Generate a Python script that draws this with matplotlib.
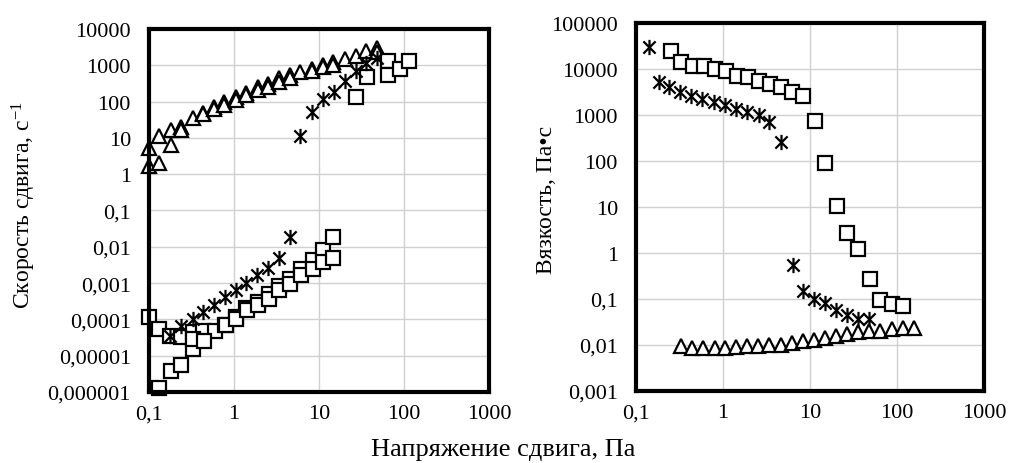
import numpy as np
import matplotlib
matplotlib.use('Agg')
import matplotlib.pyplot as plt
from matplotlib.path import Path
from matplotlib.ticker import FixedLocator, FuncFormatter, NullLocator

# ---- левый график: скорость сдвига ----
tri_a_x = [0.1, 0.132, 0.18, 0.24, 0.33, 0.43, 0.58, 0.76, 1.05, 1.4, 1.9, 2.5, 3.4, 4.5, 6.0, 8.3, 11, 14.8, 20, 27, 36, 48]
tri_a_y = [5.4, 11, 16, 20, 35, 50, 72, 95, 135, 178, 260, 315, 435, 540, 660, 790, 1010, 1200, 1450, 1850, 2400, 3000]
tri_b_x = [0.1, 0.132, 0.18, 0.24, 0.43, 0.58, 0.76, 1.05, 1.4, 1.9, 2.5, 3.4, 4.5, 8.3, 11, 14.8, 48]
tri_b_y = [1.7, 2.0, 6.3, 17, 45, 62, 80, 110, 150, 210, 260, 350, 435, 680, 880, 1050, 2270]

ast_hi_x = [6.0, 8.3, 11, 15, 20, 27, 36, 48]
ast_hi_y = [11.4, 53, 117, 180, 370, 700, 1150, 1600]
sq_hi_x = [27, 36.6, 64, 64, 89, 115]
sq_hi_y = [131, 485, 1340, 540, 790, 1340]

ast_lo_x = [0.176, 0.235, 0.325, 0.43, 0.58, 0.78, 1.05, 1.4, 1.87, 2.5, 3.4, 4.6]
ast_lo_y = [3.5e-5, 6.5e-5, 1.0e-4, 1.6e-4, 2.5e-4, 4.1e-4, 6.3e-4, 1.0e-3, 1.65e-3, 2.6e-3, 5.0e-3, 0.019]

sq1_x = [0.1, 0.13, 0.176, 0.24, 0.33, 0.43, 0.59, 0.78, 1.07, 1.4, 1.9, 2.55, 3.4, 4.6, 6.1, 8.4, 11, 14.7]
sq1_y = [1.15e-4, 5.5e-5, 3.5e-5, 3.2e-5, 4.5e-5, 4.9e-5, 4.9e-5, 7e-5, 1.2e-4, 2.0e-4, 3.0e-4, 5.1e-4, 8.3e-4, 1.3e-3, 2.4e-3, 4.3e-3, 8.1e-3, 0.019]
sq2_x = [0.13, 0.18, 0.24, 0.33, 0.33, 0.44, 0.8, 1.07, 1.42, 1.9, 2.55, 3.4, 4.6, 6.1, 8.4, 11, 14.7]
sq2_y = [1.3e-6, 3.8e-6, 5.5e-6, 1.5e-5, 2.8e-5, 2.6e-5, 7e-5, 1.0e-4, 1.8e-4, 2.5e-4, 3.7e-4, 6.3e-4, 9.7e-4, 1.65e-3, 2.5e-3, 3.9e-3, 5.0e-3]

# ---- правый график: вязкость ----
visc_ast_x = [0.14, 0.185, 0.24, 0.32, 0.43, 0.58, 0.78, 1.05, 1.4, 1.88, 2.6, 3.4, 4.7,
              6.3, 8.4, 11.2, 14.9, 20, 26.6, 36, 48]
visc_ast_y = [30600, 5130, 4000, 3100, 2630, 2230, 1900, 1650, 1350, 1180, 1000, 720, 263,
              0.55, 0.15, 0.1, 0.081, 0.058, 0.044, 0.037, 0.037]
visc_sq_x = [0.255, 0.33, 0.45, 0.61, 0.81, 1.08, 1.44, 1.92, 2.6, 3.5, 4.7, 6.2, 8.4, 11.5, 15,
             20.4, 26.6, 36, 49, 64, 87, 116]
visc_sq_y = [25000, 14000, 11800, 11800, 10000, 9150, 7200, 6600, 5600, 4700, 4000, 3100, 2630, 750, 91,
             10.3, 2.75, 1.2, 0.27, 0.093, 0.079, 0.071]
visc_tri_x = [0.33, 0.44, 0.59, 0.8, 1.06, 1.42, 1.9, 2.55, 3.4, 4.7, 6.2, 8.3, 11.2, 14.9, 20, 26.6, 36, 48, 64, 87, 116, 155]
visc_tri_y = [0.0095, 0.0087, 0.0087, 0.0087, 0.0087, 0.009, 0.0093, 0.0093, 0.0102, 0.0102, 0.0111, 0.012,
              0.0126, 0.014, 0.0158, 0.017, 0.019, 0.0205, 0.0205, 0.0225, 0.024, 0.024]

plt.rcParams['font.family'] = ['Liberation Serif', 'DejaVu Serif']
plt.rcParams['mathtext.fontset'] = 'custom'
plt.rcParams['mathtext.rm'] = 'Liberation Serif'
plt.rcParams['mathtext.it'] = 'Liberation Serif:italic'

# звездочка как в Excel: крест + вертикальная черта
star = Path([(0, -1), (0, 1), (-0.8, -0.8), (0.8, 0.8), (-0.8, 0.8), (0.8, -0.8)],
            [Path.MOVETO, Path.LINETO, Path.MOVETO, Path.LINETO, Path.MOVETO, Path.LINETO])

sq_kw = dict(ls='none', marker='s', ms=9.5, mfc='white', mec='black', mew=1.6, clip_on=False)
tri_kw = dict(ls='none', marker='^', ms=9.5, mfc='white', mec='black', mew=1.6, clip_on=False)
ast_kw = dict(ls='none', marker=star, ms=11, mec='black', mew=1.6, clip_on=False)


def comma(v, pos):
    s = ('%.6f' % v).rstrip('0').rstrip('.')
    return s.replace('.', ',')


def style(ax, ylo, yhi):
    ax.set_xscale('log')
    ax.set_yscale('log')
    ax.set_xlim(0.1, 1000)
    ax.set_ylim(ylo, yhi)
    ax.xaxis.set_major_locator(FixedLocator([0.1, 1, 10, 100, 1000]))
    ax.yaxis.set_major_locator(FixedLocator(10.0 ** np.arange(np.log10(ylo), np.log10(yhi) + 0.5)))
    ax.xaxis.set_minor_locator(NullLocator())
    ax.yaxis.set_minor_locator(NullLocator())
    ax.xaxis.set_major_formatter(FuncFormatter(comma))
    ax.yaxis.set_major_formatter(FuncFormatter(comma))
    ax.grid(True, color='#d0d0d0', lw=1)
    ax.set_axisbelow(True)
    ax.tick_params(length=0, labelsize=16)
    ax.tick_params(axis='y', pad=13)
    ax.tick_params(axis='x', pad=9)
    for sp in ax.spines.values():
        sp.set_linewidth(3)
        sp.set_color('black')


fig = plt.figure(figsize=(10.09, 4.64), dpi=100)
ax1 = fig.add_axes([149 / 1009, 1 - 393 / 464, 340 / 1009, 363 / 464])
ax2 = fig.add_axes([636 / 1009, 1 - 392 / 464, 348 / 1009, 368 / 464])

ax1.plot(tri_a_x, tri_a_y, **tri_kw)
ax1.plot(tri_b_x, tri_b_y, **tri_kw)
ax1.plot(sq_hi_x, sq_hi_y, **sq_kw)
ax1.plot(sq1_x, sq1_y, **sq_kw)
ax1.plot(sq2_x, sq2_y, **sq_kw)
ax1.plot(ast_hi_x, ast_hi_y, **ast_kw)
ax1.plot(ast_lo_x, ast_lo_y, **ast_kw)
style(ax1, 1e-6, 1e4)

ax2.plot(visc_tri_x, visc_tri_y, **tri_kw)
ax2.plot(visc_sq_x, visc_sq_y, **sq_kw)
ax2.plot(visc_ast_x, visc_ast_y, **ast_kw)
style(ax2, 1e-3, 1e5)

fig.text(24 / 1009, 1 - 205 / 464, 'Скорость сдвига, с$^{\\mathregular{-1}}$', rotation=90,
         ha='center', va='center', fontsize=17)
fig.text(546 / 1009, 1 - 200 / 464, 'Вязкость, Па•с', rotation=90,
         ha='center', va='center', fontsize=17)
fig.text(503 / 1009, 1 - 450 / 464, 'Напряжение сдвига, Па',
         ha='center', va='center', fontsize=19)

fig.savefig('out.png', dpi=100)
